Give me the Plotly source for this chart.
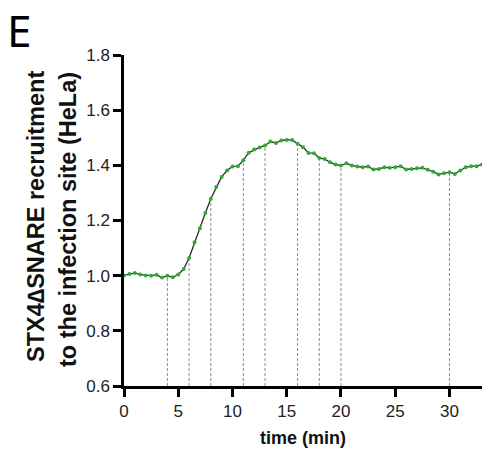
import plotly.graph_objects as go

time_min = [i * 0.5 for i in range(67)]
recruitment = [
    1.001, 1.006, 1.010, 1.004, 1.001, 1.000, 1.003, 0.993, 1.000, 0.994,
    1.004, 1.024, 1.064, 1.121, 1.172, 1.227, 1.279, 1.321, 1.358, 1.381,
    1.396, 1.397, 1.418, 1.446, 1.457, 1.465, 1.472, 1.486, 1.481, 1.490,
    1.492, 1.492, 1.478, 1.466, 1.445, 1.444, 1.427, 1.423, 1.411, 1.403,
    1.399, 1.408, 1.399, 1.396, 1.393, 1.396, 1.385, 1.387, 1.393, 1.391,
    1.393, 1.397, 1.385, 1.387, 1.389, 1.391, 1.384, 1.377, 1.367, 1.371,
    1.375, 1.369, 1.381, 1.393, 1.397, 1.397, 1.403,
]
marked_times = [4, 6, 8, 11, 13, 16, 18, 20, 30]
x_ticks = [0, 5, 10, 15, 20, 25, 30]
y_ticks = [0.6, 0.8, 1.0, 1.2, 1.4, 1.6, 1.8]

fig = go.Figure()

# dashed drop lines from baseline to curve
for t in marked_times:
    v = recruitment[time_min.index(float(t))]
    fig.add_trace(go.Scatter(
        x=[t, t], y=[0.6, v], mode="lines",
        line=dict(color="#8a8a8a", width=1, dash="3px,2px"),
        hoverinfo="skip", showlegend=False,
    ))

fig.add_trace(go.Scatter(
    x=time_min, y=recruitment, mode="lines+markers",
    line=dict(color="#2b2b2b", width=1.3),
    marker=dict(color="#33a833", size=4),
    showlegend=False,
))

tickfont = dict(family="Liberation Sans, Arial, sans-serif", size=17, color="#222")

fig.update_layout(
    width=482, height=452,
    margin=dict(l=124, r=0, t=55, b=66),
    paper_bgcolor="white", plot_bgcolor="white",
    xaxis=dict(
        range=[0, 33], tickvals=x_ticks, showgrid=False, zeroline=False,
        showline=True, linecolor="black", linewidth=2.5,
        ticks="outside", ticklen=8, tickwidth=2.5, tickcolor="black",
        tickfont=tickfont,
        title=dict(text="<b>time (min)</b>", standoff=12,
                   font=dict(family="Liberation Sans, Arial, sans-serif", size=18, color="#111")),
    ),
    yaxis=dict(
        range=[0.6, 1.8], tickvals=y_ticks, tickformat=".1f", showgrid=False, zeroline=False,
        showline=True, linecolor="black", linewidth=2.5,
        ticks="outside", ticklen=8, tickwidth=2.5, tickcolor="black",
        tickfont=tickfont,
    ),
    annotations=[
        dict(text="<b>STX4\u2206SNARE recruitment</b>", textangle=-90,
             xref="paper", yref="paper", x=(36 - 124) / 358, y=(452 - 66 - 217) / 331,
             xanchor="center", yanchor="middle", showarrow=False,
             font=dict(family="Liberation Sans, Arial, sans-serif", size=23.5, color="#111")),
        dict(text="<b>to the infection site (HeLa)</b>", textangle=-90,
             xref="paper", yref="paper", x=(68 - 124) / 358, y=(452 - 66 - 220) / 331,
             xanchor="center", yanchor="middle", showarrow=False,
             font=dict(family="Liberation Sans, Arial, sans-serif", size=23.5, color="#111")),
        dict(text="E", xref="paper", yref="paper",
             x=(6 - 124) / 358, y=(452 - 66 + 1) / 331,
             xanchor="left", yanchor="top", showarrow=False, borderpad=0,
             font=dict(family="Noto Sans, Open Sans, sans-serif", size=44, color="black")),
    ],
)

fig.write_html("out.html")
